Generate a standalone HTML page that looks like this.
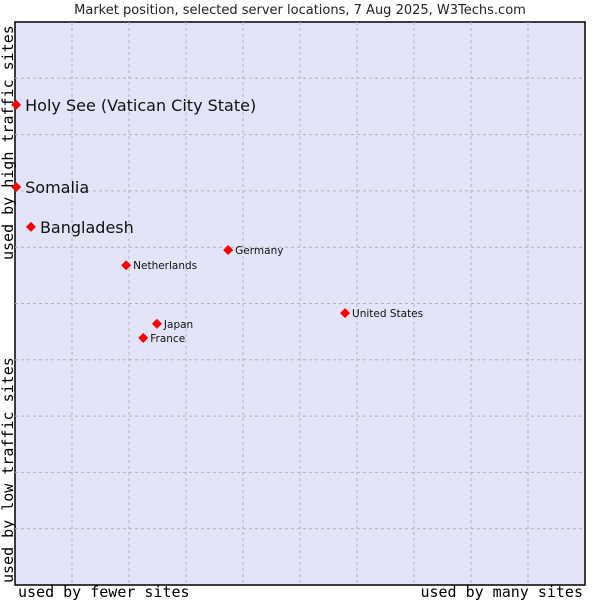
<!DOCTYPE html>
<html><head><meta charset="utf-8"><style>
body{margin:0;background:#fff;}
svg{display:block;font-family:"DejaVu Sans","Liberation Sans",sans-serif;}
</style></head><body>
<svg id="chart" width="600" height="600">
<text x="300" y="14" text-anchor="middle" font-size="13" fill="#222">Market position, selected server locations, 7 Aug 2025, W3Techs.com</text>
<rect x="15" y="22" width="570" height="563" fill="#e3e4f7" stroke="#000" stroke-width="1.5"/>
<g id="grid"></g>
<g id="points"></g>
<text x="18" y="597" font-family="DejaVu Sans Mono,monospace" font-size="15" fill="#000">used by fewer sites</text>
<text x="583" y="597" text-anchor="end" font-family="DejaVu Sans Mono,monospace" font-size="15" fill="#000">used by many sites</text>
<text transform="translate(13,583) rotate(-90)" font-family="DejaVu Sans Mono,monospace" font-size="15" fill="#000">used by low traffic sites</text>
<text transform="translate(13,260) rotate(-90)" font-family="DejaVu Sans Mono,monospace" font-size="15" fill="#000">used by high traffic sites</text>
</svg>
<script>
const names=["Holy See (Vatican City State)","Somalia","Bangladesh","Germany","Netherlands","United States","Japan","France"];
const xVals=[0.02,0.02,0.28,3.74,1.95,5.79,2.49,2.25];
const yVals=[8.53,7.07,6.36,5.95,5.68,4.83,4.64,4.39];
const bigLabel=[true,true,true,false,false,false,false,false];
const L=15,R=585,T=22,B=585;
const sx=v=>L+v/10*(R-L), sy=v=>B-v/10*(B-T);
const ns="http://www.w3.org/2000/svg";
const grid=document.getElementById('grid'), pts=document.getElementById('points');
for(let i=1;i<10;i++){
  let l=document.createElementNS(ns,'line');
  
  
  l.setAttribute('x1',sx(i));l.setAttribute('x2',sx(i));l.setAttribute('y1',T);l.setAttribute('y2',B);
  l.setAttribute('stroke','#b4b4b4');l.setAttribute('stroke-dasharray','3,3');grid.appendChild(l);
  let h=document.createElementNS(ns,'line');
  
  
  h.setAttribute('y1',sy(i));h.setAttribute('y2',sy(i));h.setAttribute('x1',L);h.setAttribute('x2',R);
  h.setAttribute('stroke','#b4b4b4');h.setAttribute('stroke-dasharray','3,3');grid.appendChild(h);
}
names.forEach((n,i)=>{
  const x=sx(xVals[i]),y=sy(yVals[i]);
  let p=document.createElementNS(ns,'polygon');
  
  
  p.setAttribute('points',`${x},${y-5} ${x+5},${y} ${x},${y+5} ${x-5},${y}`);
  p.setAttribute('fill','#f00');pts.appendChild(p);
  let t=document.createElementNS(ns,'text');
  
  
  const big=bigLabel[i];
  t.setAttribute('x',x+(big?9:7));t.setAttribute('y',y+(big?6:4));
  t.setAttribute('font-size',big?16:10.5);t.setAttribute('fill','#111');
  t.textContent=n;pts.appendChild(t);
});
</script>
</body></html>
